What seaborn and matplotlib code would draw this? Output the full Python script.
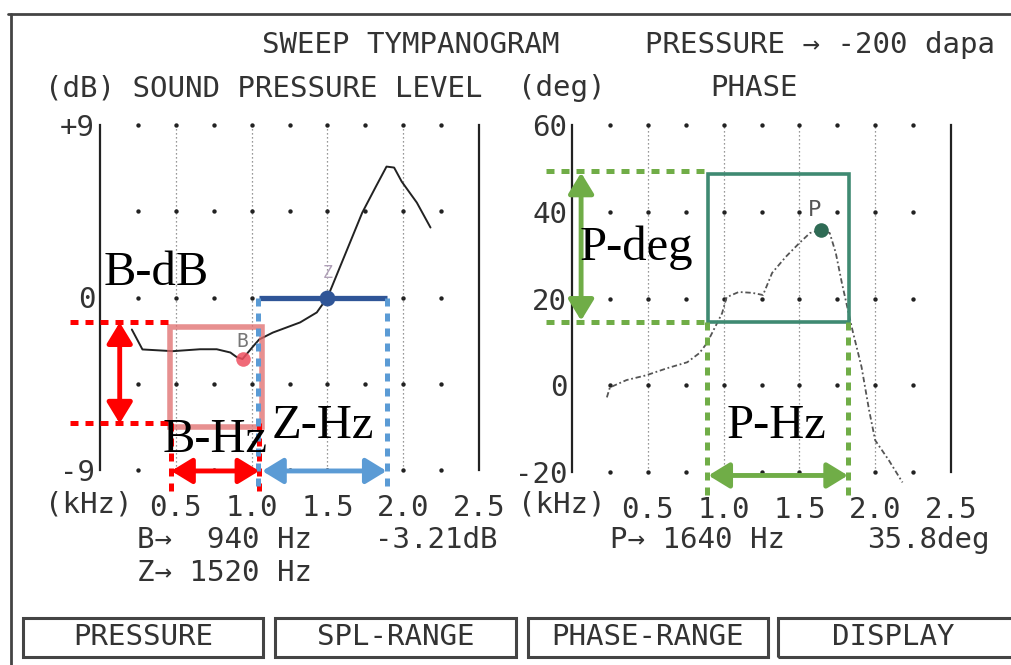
import numpy as np
import pandas as pd
import matplotlib
matplotlib.use("Agg")
import matplotlib.pyplot as plt
import seaborn as sns
from matplotlib.patches import Rectangle

# ---------------- data ----------------
spl_freq_khz = [0.21, 0.28, 0.48, 0.66, 0.77, 0.86, 0.90, 0.94, 1.01, 1.05, 1.14,
                1.32, 1.43, 1.50, 1.53, 1.63, 1.73, 1.82, 1.89, 1.94, 1.99, 2.09, 2.18]
spl_db = [-1.67, -2.71, -2.80, -2.70, -2.70, -2.87, -3.10, -3.21, -2.55, -2.19, -1.83,
          -1.30, -0.78, 0.00, 0.57, 2.50, 4.43, 5.79, 6.83, 6.78, 6.05, 4.95, 3.65]

phase_freq_khz = [0.23, 0.25, 0.36, 0.49, 0.625, 0.76, 0.84, 0.89, 0.99, 1.02, 1.10,
                  1.19, 1.26, 1.32, 1.41, 1.50, 1.57, 1.64, 1.70, 1.74, 1.78, 1.85,
                  1.91, 1.96, 2.00, 2.09, 2.18]
phase_deg = [-2.8, -0.5, 1.2, 2.3, 3.9, 5.3, 7.4, 9.7, 16.6, 20.3, 21.5,
             21.3, 20.8, 25.9, 29.6, 32.8, 35.1, 35.8, 35.1, 30.5, 23.6, 12.7,
             4.2, -5.8, -12.7, -17.3, -22.4]

b_point = (0.94, -3.21)     # B: 940 Hz, -3.21 dB
z_point = (1.50, 0.0)      # Z: 1520 Hz
p_point = (1.64, 35.8)     # P: 1640 Hz, 35.8 deg

spl_ticks = [-9, -4.5, 0, 4.5, 9]
spl_ticklabels = ["-9", "", "0", "", "+9"]
phase_ticks = [-20, 0, 20, 40, 60]
phase_ticklabels = ["-20", "0", "20", "40", "60"]
khz_ticks = [0.5, 1.0, 1.5, 2.0, 2.5]
khz_ticklabels = ["0.5", "1.0", "1.5", "2.0", "2.5"]

# annotation ranges
b_db_range = (-1.30, -6.57)
b_hz_range = (0.47, 1.05)
z_hz_range = (1.05, 1.89)
b_box = (0.46, 1.07, -6.78, -1.56)
p_deg_range = (14.6, 49.0)
p_hz_range = (0.89, 1.82)
p_box = (0.895, 1.83, 14.6, 48.6)

buttons = ["PRESSURE", "SPL-RANGE", "PHASE-RANGE", "DISPLAY"]

# ---------------- style ----------------
sns.set_style("white")
plt.rcParams["font.family"] = ["DejaVu Sans Mono"]
MONO = 21
TXT = "#333333"
SERIF = ["Liberation Serif", "DejaVu Serif"]

W, H = 1011, 665
fig = plt.figure(figsize=(W / 100, H / 100), dpi=100)
fig.patch.set_facecolor("white")


def fx(x):
    return x / W


def fy(y):
    return 1 - y / H


ax1 = fig.add_axes([fx(100), fy(470), fx(479) - fx(100), fy(125) - fy(470)])
ax2 = fig.add_axes([fx(572), fy(472), fx(951) - fx(572), fy(125) - fy(472)])

for ax, ylim, ticks, labels in [(ax1, (-9, 9), spl_ticks, spl_ticklabels),
                                (ax2, (-20, 60), phase_ticks, phase_ticklabels)]:
    ax.set_xlim(0, 2.5)
    ax.set_ylim(*ylim)
    ax.set_facecolor("none")
    ax.spines["top"].set_visible(False)
    ax.spines["bottom"].set_visible(False)
    for s in ("left", "right"):
        ax.spines[s].set_color("#222222")
        ax.spines[s].set_linewidth(1.6)
    ax.set_yticks(ticks)
    ax.set_yticklabels(labels)
    ax.set_xticks(khz_ticks)
    ax.set_xticklabels(khz_ticklabels)
    ax.tick_params(axis="y", length=3, width=1.2, pad=0.5, labelsize=MONO,
                   colors="#222222", labelcolor=TXT)
    ax.tick_params(axis="x", length=0, pad=17, labelsize=MONO, labelcolor=TXT)
    ax.set_xlabel("")
    ax.set_ylabel("")
    # dotted vertical grid lines
    for xv in khz_ticks[:-1]:
        ax.axvline(xv, color="#777777", lw=0.9, ls=(0, (1, 2.2)), zorder=1)
    # dot grid
    gx, gy = np.meshgrid(np.arange(0.25, 2.5, 0.25), np.linspace(ylim[0], ylim[1], 5))
    dots = pd.DataFrame({"x": gx.ravel(), "y": gy.ravel()})
    sns.scatterplot(data=dots, x="x", y="y", ax=ax, s=10, color="#222222",
                    linewidth=0, zorder=2, clip_on=False, legend=False)
    ax.set_xlabel("")
    ax.set_ylabel("")

# ---------------- curves ----------------
spl_df = pd.DataFrame({"kHz": spl_freq_khz, "dB": spl_db})
sns.lineplot(data=spl_df, x="kHz", y="dB", ax=ax1, color="#222222", lw=1.4,
             sort=False, zorder=4)
phase_df = pd.DataFrame({"kHz": phase_freq_khz, "deg": phase_deg})
sns.lineplot(data=phase_df, x="kHz", y="deg", ax=ax2, color="#555555", lw=1.3,
             ls=(0, (3, 1.5, 1, 1.5)), sort=False, zorder=4)
lines = ax2.get_lines()
lines[-1].set_clip_on(False)
for ax in (ax1, ax2):
    ax.set_xlabel("")
    ax.set_ylabel("")

# ---------------- annotations: left (SPL) ----------------
RED = "#ff0000"
BLUE_L = "#5b9bd5"
BLUE_D = "#2f5597"
GREEN = "#70ad47"
TEAL = "#3f8a72"
DOT = (0, (1.6, 1.4))
LW = 3.6


def dline(ax, xs, ys, color):
    ax.plot(xs, ys, color=color, lw=LW, ls=DOT, clip_on=False, zorder=6,
            solid_capstyle="butt", dash_capstyle="butt")


def darrow(ax, p0, p1, color):
    ax.annotate("", xy=p1, xytext=p0, xycoords="data", textcoords="data",
                annotation_clip=False, zorder=7,
                arrowprops=dict(arrowstyle="<|-|>,head_length=0.9,head_width=0.55",
                                color=color, lw=3.5, mutation_scale=14,
                                shrinkA=0, shrinkB=0))


# pink box around B
ax1.add_patch(Rectangle((b_box[0], b_box[2]), b_box[1] - b_box[0], b_box[3] - b_box[2],
                        fill=False, ec="#e06b6b", lw=4, alpha=0.75, zorder=5, clip_on=False))
dline(ax1, [-0.20, b_box[0] + 0.01], [b_db_range[0]] * 2, RED)
dline(ax1, [-0.20, b_box[0] + 0.01], [b_db_range[1]] * 2, RED)
darrow(ax1, (0.13, b_db_range[0]), (0.13, b_db_range[1]), RED)
dline(ax1, [b_hz_range[0]] * 2, [b_db_range[1], -10.3], RED)
dline(ax1, [b_hz_range[1]] * 2, [b_db_range[1], -10.3], RED)
darrow(ax1, (b_hz_range[0], -9.05), (b_hz_range[1], -9.05), RED)

# blue Z bar
ax1.plot([z_hz_range[0], z_hz_range[1]], [0, 0], color=BLUE_D, lw=3.8, zorder=6,
         solid_capstyle="butt")
dline(ax1, [z_hz_range[0] - 0.01] * 2, [0, -10.2], BLUE_L)
dline(ax1, [z_hz_range[1]] * 2, [0, -10.2], BLUE_L)
darrow(ax1, (z_hz_range[0] + 0.02, -9.05), (z_hz_range[1], -9.05), BLUE_L)

sns.scatterplot(x=[b_point[0]], y=[b_point[1]], ax=ax1, s=110, color="#ee5060",
                alpha=0.85, linewidth=0, zorder=8, legend=False)
sns.scatterplot(x=[z_point[0]], y=[z_point[1]], ax=ax1, s=130, color=BLUE_D,
                linewidth=0, zorder=8, legend=False)
ax1.text(b_point[0], b_point[1] + 0.9, "B", fontsize=14, color="#777777",
         ha="center", va="center", zorder=7)
ax1.text(z_point[0], z_point[1] + 1.3, "Z", fontsize=12, color="#b0a0b8",
         ha="center", va="center", zorder=3)

# ---------------- annotations: right (phase) ----------------
ax2.add_patch(Rectangle((p_box[0], p_box[2]), p_box[1] - p_box[0], p_box[3] - p_box[2],
                        fill=False, ec=TEAL, lw=2.6, zorder=5))
dline(ax2, [-0.17, p_box[0] - 0.01], [p_deg_range[1] + 0.5] * 2, GREEN)
dline(ax2, [-0.17, p_box[0] - 0.01], [p_deg_range[0]] * 2, GREEN)
darrow(ax2, (0.06, p_deg_range[1]), (0.06, p_deg_range[0] + 0.3), GREEN)
dline(ax2, [p_hz_range[0]] * 2, [p_deg_range[0], -26.6], GREEN)
dline(ax2, [p_hz_range[1]] * 2, [p_deg_range[0], -26.6], GREEN)
darrow(ax2, (p_hz_range[0] + 0.01, -20.8), (p_hz_range[1], -20.8), GREEN)
sns.scatterplot(x=[p_point[0]], y=[p_point[1]], ax=ax2, s=110, color="#2f6b55",
                linewidth=0, zorder=8, legend=False)
ax2.text(p_point[0] - 0.04, p_point[1] + 4.5, "P", fontsize=16, color="#555555",
         ha="center", va="center", zorder=7)
for ax in (ax1, ax2):
    ax.set_xlabel("")
    ax.set_ylabel("")

# ---------------- serif annotation labels ----------------
fig.text(fx(104), fy(285), "B-dB", fontsize=35, family=SERIF, color="black")
fig.text(fx(163), fy(452), "B-Hz", fontsize=35, family=SERIF, color="black")
fig.text(fx(272), fy(438), "Z-Hz", fontsize=35, family=SERIF, color="black")
fig.text(fx(580), fy(260), "P-deg", fontsize=35, family=SERIF, color="black")
fig.text(fx(727), fy(438), "P-Hz", fontsize=35, family=SERIF, color="black")

# ---------------- device texts ----------------
def mono(x, y, s, **kw):
    fig.text(fx(x), fy(y), s, fontsize=MONO, color=TXT, va="center", **kw)


mono(262, 45, "SWEEP TYMPANOGRAM")
mono(645, 45, "PRESSURE \u2192 -200 dapa")
mono(45, 88, "(dB) SOUND PRESSURE LEVEL")
mono(518, 88, "(deg)")
mono(710, 88, "PHASE")
mono(45, 505, "(kHz)")
mono(518, 505, "(kHz)")
mono(137, 540, "B\u2192  940 Hz")
mono(375, 540, "-3.21dB")
mono(137, 573, "Z\u2192 1520 Hz")
mono(610, 540, "P\u2192 1640 Hz")
mono(867, 540, "35.8deg")

# ---------------- frame and buttons ----------------
fig.add_artist(plt.Line2D([fx(8), fx(1011)], [fy(14), fy(14)], color="#444444", lw=2))
fig.add_artist(plt.Line2D([fx(11), fx(11)], [fy(14), fy(665)], color="#444444", lw=2))
btn_x = [(23, 263), (275, 516), (528, 768), (778, 1030)]
for (x0, x1), label in zip(btn_x, buttons):
    fig.add_artist(Rectangle((fx(x0), fy(657)), fx(x1) - fx(x0), fy(618) - fy(657),
                             transform=fig.transFigure, fill=False, ec="#444444", lw=2.2))
    fig.text(fx((x0 + min(x1, 1011 + 0)) / 2 if x1 < 1011 else 893), fy(637), label,
             fontsize=MONO, color=TXT, ha="center", va="center")

fig.savefig("out.png", dpi=100, facecolor="white")
